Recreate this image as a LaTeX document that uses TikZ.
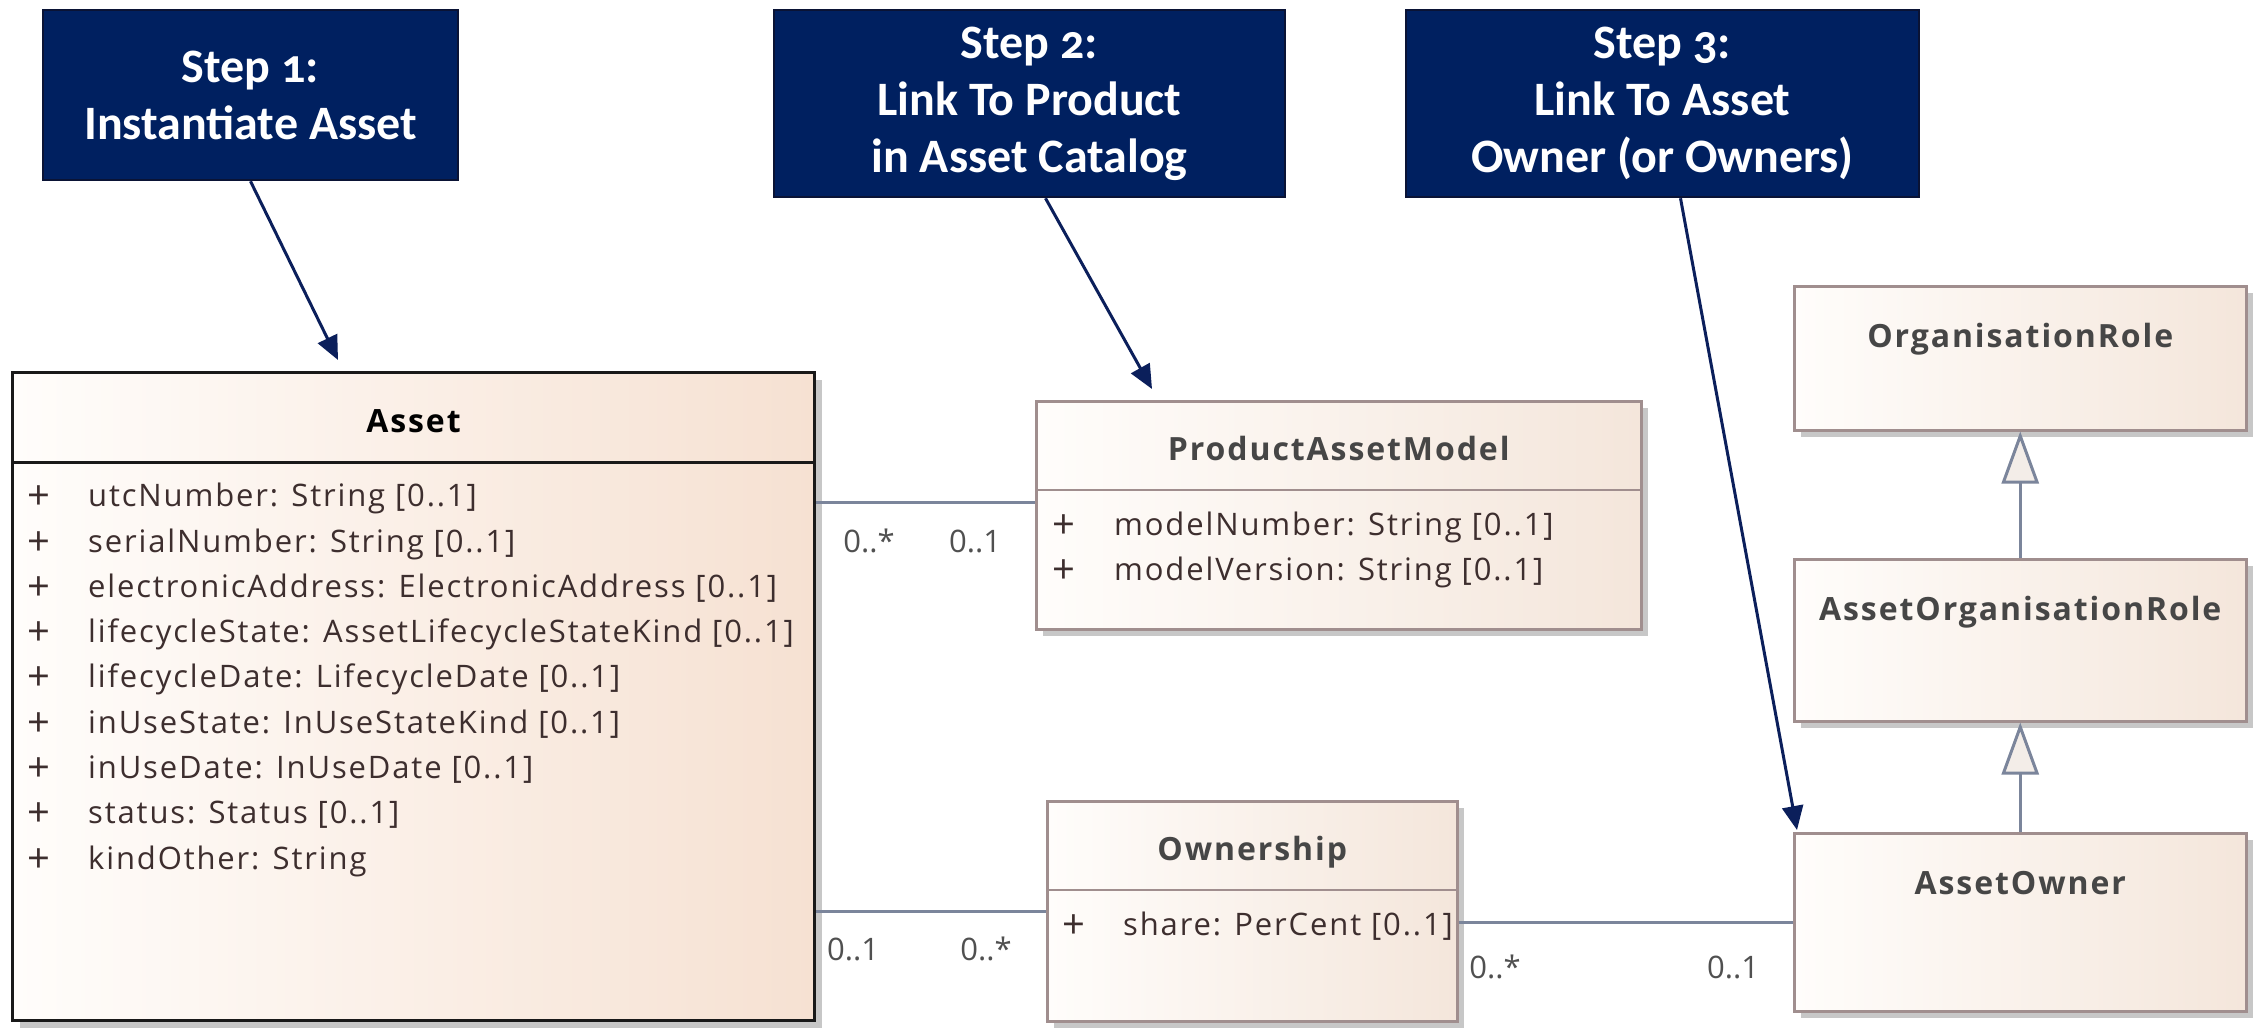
\documentclass[tikz,border=0pt]{standalone}
\usepackage{fontspec}
\newfontfamily\umlfont{Open Sans}[LetterSpace=6]
\newfontfamily\multfont{Open Sans}
\newfontfamily\stepfont{Carlito}[Numbers=OldStyle]
\usetikzlibrary{arrows.meta,shadows}

\definecolor{stepnavy}{HTML}{002060}
\definecolor{stepedge}{HTML}{0A1335}
\definecolor{pointercol}{HTML}{0B1F5B}
\definecolor{clsedge}{HTML}{A08E8E}
\definecolor{clsleft}{HTML}{FFFDFB}
\definecolor{clsright}{HTML}{F4E6DB}
\definecolor{assetright}{HTML}{F6E1D2}
\definecolor{titlegray}{HTML}{464646}
\definecolor{attrtext}{HTML}{3D2E2E}
\definecolor{multgray}{HTML}{505050}
\definecolor{linkline}{HTML}{7B859B}
\definecolor{gentip}{HTML}{F3EDE8}

\begin{document}
\begin{tikzpicture}[x=1pt, y=-1pt,
  stepbox/.style={draw=stepedge, line width=2.5pt, fill=stepnavy, text=white,
    align=center, inner sep=0pt,
    font=\stepfont\bfseries\fontsize{48}{57}\selectfont},
  pointer/.style={draw=pointercol, line width=3pt,
    -{Triangle[length=24pt, width=21pt]}},
  umlclass/.style={anchor=north west, draw=clsedge, line width=2.5pt,
    left color=clsleft, right color=clsright, inner sep=0pt,
    drop shadow={shadow xshift=7pt, shadow yshift=-7pt, fill=black!22, opacity=1}},
  separator/.style={draw=clsedge, line width=2.5pt},
  clstitle/.style={anchor=base, inner sep=0pt, text=titlegray,
    font=\umlfont\bfseries\fontsize{32}{38}\selectfont},
  attr/.style={anchor=base west, inner sep=0pt, text=attrtext,
    font=\umlfont\fontsize{31}{37}\selectfont},
  plusmark/.style={attr, yshift=-3pt, font=\multfont\fontsize{40}{40}\selectfont},
  mult/.style={anchor=base, inner sep=0pt, text=multgray,
    font=\multfont\fontsize{31}{37}\selectfont},
  link/.style={draw=linkline, line width=3pt},
  gen/.style={link, -{Triangle[length=52pt, width=37pt, fill=gentip]}}
]
\fill[white] (0,0) rectangle (2257,1029);
\useasboundingbox (0,0) rectangle (2257,1029);

% ---- classes ----
\node[umlclass, draw=black!90, line width=3pt, right color=assetright,
      minimum width=802pt, minimum height=648pt] (asset) at (11,371) {};
\node[umlclass, minimum width=605pt, minimum height=228pt] (pam) at (1035,400) {};
\node[umlclass, minimum width=410pt, minimum height=220pt] (own) at (1046,800) {};
\node[umlclass, minimum width=452pt, minimum height=144pt] (orgrole) at (1793,285) {};
\node[umlclass, minimum width=452pt, minimum height=162pt] (aor) at (1793,558) {};
\node[umlclass, minimum width=452pt, minimum height=178pt] (ao) at (1793,832) {};

% compartment separators
\draw[separator, draw=black!90, line width=3pt]
  ([yshift=-91pt]asset.north west) -- ([yshift=-91pt]asset.north east);
\draw[separator] ([yshift=-90pt]pam.north west) -- ([yshift=-90pt]pam.north east);
\draw[separator] ([yshift=-90pt]own.north west) -- ([yshift=-90pt]own.north east);

% class names
\node[clstitle, text=black] (assetname) at ([yshift=-61pt]asset.north) {Asset};
\node[clstitle] (pamname) at ([yshift=-60pt]pam.north) {ProductAssetModel};
\node[clstitle] (ownname) at ([yshift=-60pt]own.north) {Ownership};
\node[clstitle] (orgrolename) at ([yshift=-62pt]orgrole.north) {OrganisationRole};
\node[clstitle] (aorname) at ([yshift=-62pt]aor.north) {AssetOrganisationRole};
\node[clstitle] (aoname) at ([yshift=-62pt]ao.north) {AssetOwner};

% attributes of Asset
\foreach \txt [count=\i] in {
    {utcNumber: String [0..1]},
    {serialNumber: String [0..1]},
    {electronicAddress: ElectronicAddress [0..1]},
    {lifecycleState: AssetLifecycleStateKind [0..1]},
    {lifecycleDate: LifecycleDate [0..1]},
    {inUseState: InUseStateKind [0..1]},
    {inUseDate: InUseDate [0..1]},
    {status: Status [0..1]},
    {kindOther: String}} {
  \node[plusmark] (assetplus\i) at (27,{506.7+45.3*(\i-1)}) {+};
  \node[attr] (assetattr\i) at (88,{506.7+45.3*(\i-1)}) {\txt};
}

% attributes of ProductAssetModel
\node[plusmark] (pamplus1) at (1052,535) {+};
\node[attr] (pamattr1) at (1114,535) {modelNumber: String [0..1]};
\node[plusmark] (pamplus2) at (1052,580) {+};
\node[attr] (pamattr2) at (1114,580) {modelVersion: String [0..1]};

% attribute of Ownership
\node[plusmark] (ownplus1) at (1062,935) {+};
\node[attr] (ownattr1) at (1123,935) {share: PerCent [0..1]};

% ---- associations ----
\coordinate (pamlevel) at (0,502);
\draw[link] (asset.east |- pamlevel) -- (pam.west |- pamlevel);
\draw[link] (asset.east |- own.west) -- (own.west);
\draw[link] (own.east |- ao.west) -- (ao.west);

\node[mult] (m1) at (869,552) {0..*};
\node[mult] (m2) at (975,552) {0..1};
\node[mult] (m3) at (853,960) {0..1};
\node[mult] (m4) at (986,960) {0..*};
\node[mult] (m5) at (1495,978) {0..*};
\node[mult] (m6) at (1733,978) {0..1};

% ---- generalizations ----
\draw[gen] (aor.north) -- (orgrole.south);
\draw[gen] (ao.north) -- (aor.south);

% ---- step callouts ----
\node[stepbox, minimum width=415pt, minimum height=170pt] (step1) at (250.5,95)
  {Step 1:\\Instantiate Asset};
\node[stepbox, minimum width=511pt, minimum height=187pt] (step2) at (1029.5,103.5)
  {Step 2:\\Link To Product\\in Asset Catalog};
\node[stepbox, minimum width=513pt, minimum height=187pt] (step3) at (1662.5,103.5)
  {Step 3:\\Link To Asset\\Owner (or Owners)};

\coordinate (tip1) at (338,360);
\coordinate (tip2) at (1152,389);
\coordinate (tip3) at (1797,830);
\draw[pointer] (step1.south) -- (tip1);
\draw[pointer] ([xshift=16pt]step2.south) -- (tip2);
\draw[pointer] ([xshift=18pt]step3.south) -- (tip3);
\end{tikzpicture}
\end{document}
